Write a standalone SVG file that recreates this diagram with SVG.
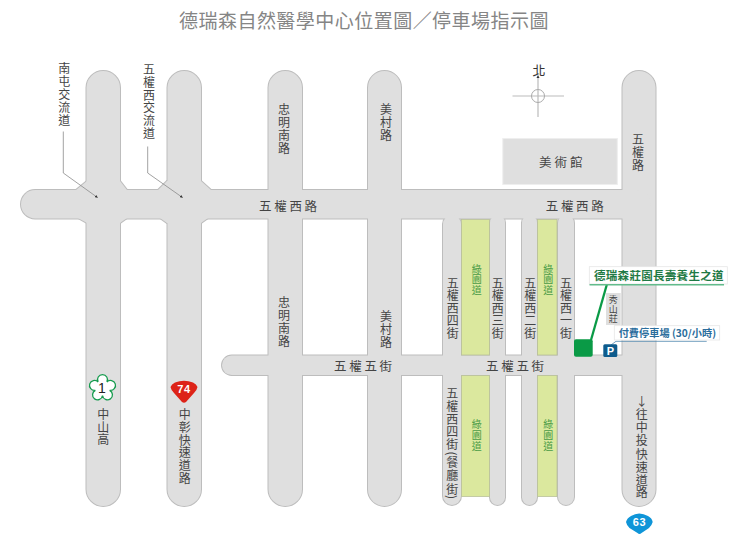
<svg xmlns="http://www.w3.org/2000/svg" width="750" height="541" viewBox="0 0 750 541">
<style>
text{font-family:"Noto Sans CJK TC","Noto Sans",sans-serif;fill:#444}
.v{font-size:12px;text-anchor:middle}
.h{font-size:12.500px;letter-spacing:2.700px}
.g{fill:#4a9c46;font-size:10px;text-anchor:middle}
.o{fill:#bdbdbd;stroke:#bdbdbd;stroke-width:2}
.f{fill:#dfdfdf;stroke:none}
.lead{fill:none;stroke:#8a8a8a;stroke-width:.8}
.park{fill:#fff;stroke:#e6e6e6;stroke-width:.8}
.gr{fill:#dbe89e;stroke:#b9c09a;stroke-width:.8}
</style>
<defs>
<marker id="dot" markerWidth="4" markerHeight="4" refX="3.4" refY="2" orient="auto"><path d="M0 0.3L4 2L0 3.7Z" fill="#333"/></marker>
<g id="roads">
<rect x="86.500" y="71" width="33.500" height="435" rx="16.700"/>
<rect x="167.500" y="71" width="33.500" height="435" rx="16.700"/>
<rect x="268.500" y="71" width="33.500" height="435" rx="16.700"/>
<rect x="368" y="71" width="33" height="435" rx="16.500"/>
<rect x="622.500" y="71" width="33" height="435" rx="16.500"/>
<rect x="21" y="190" width="630" height="28.500" rx="14.200"/>
<rect x="222" y="355.500" width="430" height="19.500" rx="9.700"/>
<rect x="443" y="215" width="18" height="290" rx="9"/>
<rect x="490" y="215" width="15" height="290" rx="7.500"/>
<rect x="522" y="215" width="15" height="290" rx="7.500"/>
<rect x="558" y="215" width="16" height="290" rx="8"/>
<path d="M76 190L87 181L120 181L127 190ZM158 190L167 181L201 181L211 190ZM78 218L87 223L120 223L127 218ZM160 218L167 223L201 223L208 218Z"/>
</g>
</defs>
<rect width="750" height="541" fill="#fff"/>
<g id="title"><text x="179" y="28" font-size="19" letter-spacing=".47" style="fill:#858585">德瑞森自然醫學中心位置圖／停車場指示圖</text></g>
<g id="road-network">
<use href="#roads" class="o"/>
<use href="#roads" class="f"/>
</g>
<g id="green-belts">
<rect class="gr" x="461.500" y="219.500" width="28" height="135.500"/>
<rect class="gr" x="537.500" y="219.500" width="19.500" height="135.500"/>
<path class="gr" d="M461.500 375.500H489.500V496.500H461.500Z" stroke="none"/>
<path class="gr" d="M537.500 375.500H557V496.500H537.500Z" stroke="none"/>
</g>
<g id="museum">
<rect x="502.800" y="138.500" width="114.500" height="46" fill="#dfdfdf" stroke="#eee"/>
<text class="h" x="539" y="167" style="letter-spacing:3px">美術館</text>
</g>
<g id="north">
<path d="M512.500 96H564M538 78V117" stroke="#bbb" stroke-width="1.200" fill="none"/>
<circle cx="538" cy="96" r="6.500" fill="none" stroke="#aaa"/>
<path d="M538 75L539.500 78H536.500Z" fill="#333"/>
<text x="539" y="75" font-size="13" text-anchor="middle" style="fill:#333">北</text>
</g>
<g id="connectors">
<path class="lead" marker-end="url(#dot)" d="M63.300 131.500V173L97.500 197.500"/>
<path class="lead" marker-end="url(#dot)" d="M147.700 146.500V173L182.500 197.500"/>
</g>
<g id="road-labels">
<text class="v" x="64.300 64.300 64.300 64.300 64.300" y="72.700 85.700 98.700 111.700 124.700">南屯交流道</text>
<text class="v" x="149 149 149 149 149 149" y="74 86.800 99.600 112.400 125.200 138">五權西交流道</text>
<text class="v" x="284 284 284 284" y="114 127 140 153">忠明南路</text>
<text class="v" x="284 284 284 284" y="307 320 333 346">忠明南路</text>
<text class="v" x="386 386 386" y="114 127 140">美村路</text>
<text class="v" x="386 386 386" y="321 334 347">美村路</text>
<text class="v" x="638 638 638" y="144 157 170">五權路</text>
<text class="h" x="259" y="211">五權西路</text>
<text class="h" x="545.700" y="211">五權西路</text>
<text class="h" x="334" y="371">五權五街</text>
<text class="h" x="486" y="371">五權五街</text>
<text class="v" x="452.700 452.700 452.700 452.700 452.700" y="287.500 300 312.600 325.200 337.800">五權西四街</text>
<text class="v" x="497.700 497.700 497.700 497.700 497.700" y="287.500 300 312.600 325.200 337.800">五權西三街</text>
<text class="v" x="530.300 530.300 530.300 530.300 530.300" y="287.500 300 312.600 325.200 337.800">五權西二街</text>
<text class="v" x="566 566 566 566 566" y="287.500 300 312.600 325.200 337.800">五權西一街</text>
<text class="v" x="452.300 452.300 452.300 452.300 452.300" y="398 410.800 423.600 436.400 449.200">五權西四街</text>
<text class="v" transform="translate(452.300 453.500) rotate(90)" dominant-baseline="central">(</text>
<text class="v" x="452.300 452.300 452.300" y="466.500 480.300 494">餐廳街</text>
<text class="v" transform="translate(452.300 497) rotate(90)" dominant-baseline="central">)</text>
<text class="v" x="103.300 103.300 103.300" y="419 431.600 444">中山高</text>
<text class="v" x="184.700 184.700 184.700 184.700 184.700 184.700" y="419 431.800 444.600 457.400 470.200 483">中彰快速道路</text>
<text class="v" x="641.700 641.700 641.700 641.700 641.700 641.700 641.700 641.700" y="406 419.300 432.400 445.400 458.500 471.500 484.600 497">↓往中投快速道路</text>
<text class="g" x="476.700 476.700 476.700" y="272.500 283.100 293.700">綠園道</text>
<text class="g" x="548.300 548.300 548.300" y="272.500 283.100 293.700">綠園道</text>
<text class="g" x="476.700 476.700 476.700" y="428 439 450">綠園道</text>
<text class="g" x="548.300 548.300 548.300" y="428 439 450">綠園道</text>
</g>
<g id="badge-1">
<path transform="translate(102.500 388)" d="M-4.410-6.070A5 5 0 1 1 4.410-6.070A5 5 0 1 1 7.130 2.320A5 5 0 1 1 0 7.500A5 5 0 1 1-7.130 2.320A5 5 0 1 1-4.410-6.070Z" fill="#fff" stroke="#169b4e" stroke-width="1.300"/>
<text x="102" y="393" font-size="14" text-anchor="middle" style="font-family:'Liberation Sans',sans-serif;fill:#222">1</text>
</g>
<g id="badge-74">
<path d="M170.500 387Q171.500 384 175 382.500Q184 379 193 382.500Q196.500 384 197.500 387Q197 390 194 393L186 402Q184 403.500 182 402L174 393Q171 390 170.500 387Z" fill="#dd2318"/>
<text x="184" y="393" font-size="11" font-weight="700" text-anchor="middle" letter-spacing=".6" style="font-family:'Liberation Sans',sans-serif;fill:#fff">74</text>
</g>
<g id="badge-63">
<path d="M626 522Q627 518 631 516Q639 511 648 516Q652 518 652.700 522Q652 525 649 528L641.500 533Q639.500 535 637.500 533L629.500 528Q626.500 525 626 522Z" fill="#0f95d8"/>
<text x="639.500" y="525.500" font-size="11" font-weight="700" text-anchor="middle" letter-spacing=".6" style="font-family:'Liberation Sans',sans-serif;fill:#fff">63</text>
</g>
<g id="xiushan">
<rect x="606" y="293" width="14.700" height="32" fill="#dfdfdf"/>
<text class="v" x="613.300 613.300 613.300" y="303 312.500 322" style="font-size:9px">秀山莊</text>
</g>
<g id="location">
<path d="M607 284L591 340" stroke="#0a9a46" stroke-width="2.300"/>
<rect x="574" y="339.300" width="18.700" height="17.400" rx="2" fill="#0a9a46"/>
<rect class="park" x="589.300" y="266.700" width="138" height="17.300"/>
<path d="M589.500 284.800H724" stroke="#62bb8b" stroke-width="1.400"/>
<text x="594" y="279.500" font-size="11.500" font-weight="700" letter-spacing=".3" style="fill:#1f7a45">德瑞森莊園長壽養生之道</text>
</g>
<g id="parking">
<path d="M611 345L616 341.300H706.700" stroke="#4a84ad" stroke-width=".8" fill="none"/>
<rect class="park" x="614.300" y="325.700" width="105.400" height="14.300"/>
<text x="618.700" y="337" font-size="10.200" font-weight="700" style="fill:#2a6d9c">付費停車場 (30/小時)</text>
<rect x="603.300" y="344.300" width="14" height="12.700" rx="1.500" fill="#0e5b8c"/>
<text x="610.300" y="355" font-size="11" font-weight="700" text-anchor="middle" style="font-family:'Liberation Sans',sans-serif;fill:#fff">P</text>
</g>
</svg>
